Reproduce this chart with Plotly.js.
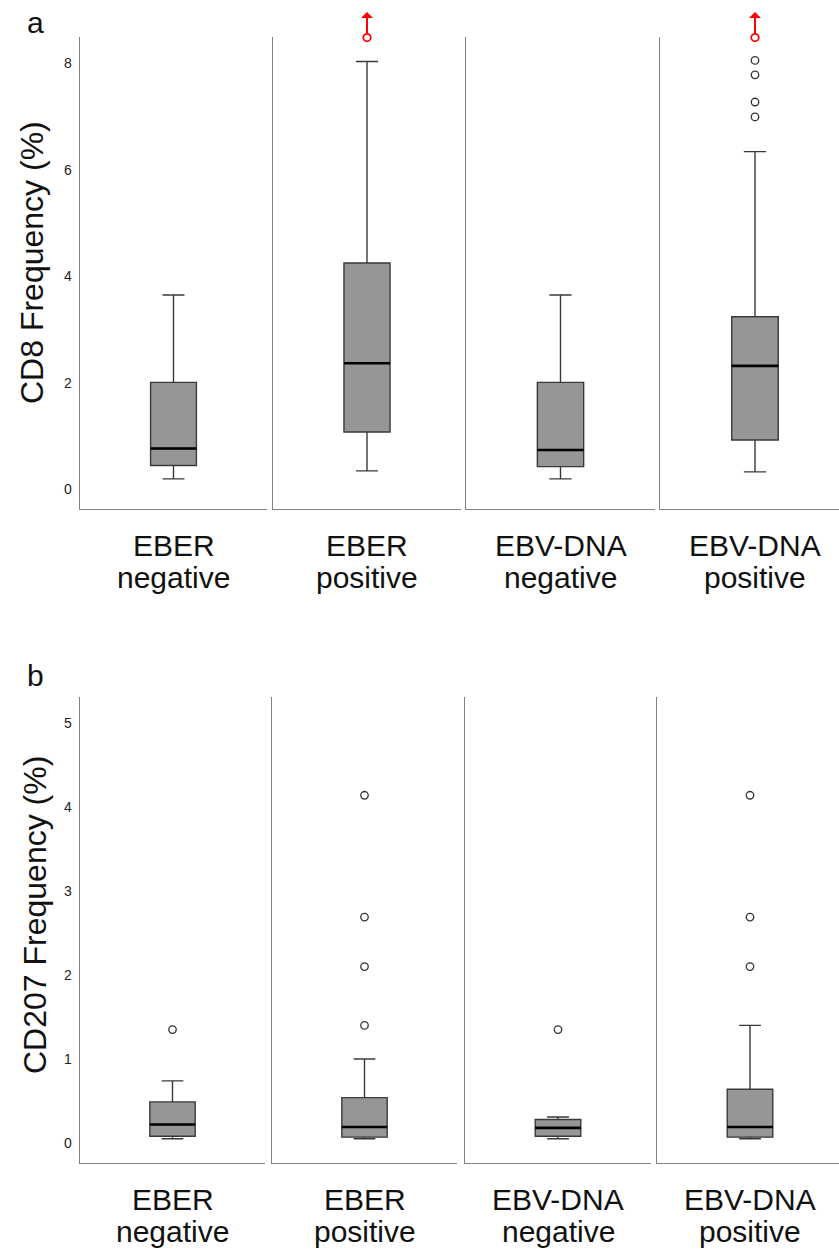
<!DOCTYPE html>
<html>
<head>
<meta charset="utf-8">
<script src="https://cdn.plot.ly/plotly-3.0.1.min.js"></script>
<style>html,body{margin:0;padding:0;background:#fff}#chart{width:839px;height:1249px}</style>
</head>
<body>
<div id="chart"></div>
<script>
// ---------- DATA ----------
const categories = ["EBER negative", "EBER positive", "EBV-DNA negative", "EBV-DNA positive"];

// Panel a: CD8 Frequency (%)
const cd8Lower  = [0.20, 0.35, 0.20, 0.33];
const cd8Q1     = [0.45, 1.08, 0.43, 0.93];
const cd8Median = [0.77, 2.37, 0.74, 2.32];
const cd8Q3     = [2.01, 4.25, 2.01, 3.24];
const cd8Upper  = [3.65, 8.03, 3.65, 6.34];
const cd8Outliers = [[], [], [], [8.05, 7.78, 7.27, 6.99]];
const cd8OffScale = [null, 8.48, null, 8.48];   // red: values beyond the axis (arrow up)

// Panel b: CD207 Frequency (%)
const cd207Lower  = [0.05, 0.05, 0.05, 0.05];
const cd207Q1     = [0.08, 0.07, 0.08, 0.07];
const cd207Median = [0.22, 0.19, 0.18, 0.19];
const cd207Q3     = [0.49, 0.54, 0.28, 0.64];
const cd207Upper  = [0.74, 1.00, 0.31, 1.40];
const cd207Outliers = [[1.35], [4.14, 2.69, 2.10, 1.40], [1.35], [4.14, 2.69, 2.10]];

const cd8Ticks = [0, 2, 4, 6, 8];
const cd207Ticks = [0, 1, 2, 3, 4, 5];

// ---------- LAYOUT GEOMETRY ----------
const W = 839, H = 1249;
const FONT = "Liberation Sans, Arial, sans-serif";
const BOXW = 0.245;
const px = v => v / W;
const py = v => 1 - v / H;

const rows = [
  { key: "a", title: "CD8 Frequency (%)", lower: cd8Lower, q1: cd8Q1, med: cd8Median, q3: cd8Q3, upper: cd8Upper,
    outliers: cd8Outliers, offscale: cd8OffScale, ticks: cd8Ticks,
    top: 37, bottom: 509, yrange: [-0.366, 8.49],
    panels: [[80, 267, 173.5], [273, 461, 367], [466, 655, 560.5], [660, 839, 755]],
    letter: [35, 23], titlePos: [32, 263] },
  { key: "b", title: "CD207 Frequency (%)", lower: cd207Lower, q1: cd207Q1, med: cd207Median, q3: cd207Q3, upper: cd207Upper,
    outliers: cd207Outliers, offscale: [null, null, null, null], ticks: cd207Ticks,
    top: 697, bottom: 1163, yrange: [-0.238, 5.31],
    panels: [[80, 265, 172.5], [272, 457, 364.5], [465, 651, 558], [657, 839, 750]],
    letter: [35, 675], titlePos: [35, 915] }
];

const traces = [];
const layout = {
  width: W, height: H,
  margin: { l: 0, r: 0, t: 0, b: 0 },
  paper_bgcolor: "#ffffff", plot_bgcolor: "rgba(0,0,0,0)",
  showlegend: false,
  font: { family: FONT, color: "#111" },
  annotations: []
};

let n = 0;
rows.forEach((row, r) => {
  row.panels.forEach((p, i) => {
    n += 1;
    const xa = "x" + (n === 1 ? "" : n), ya = "y" + (n === 1 ? "" : n);
    const xk = "xaxis" + (n === 1 ? "" : n), yk = "yaxis" + (n === 1 ? "" : n);
    const [left, right, center] = p;
    const ppu = (center - left) * 2; // px per data unit
    layout[xk] = {
      domain: [px(left), px(right)], anchor: ya,
      range: [-(center - left) / ppu, (right - center) / ppu],
      showline: true, linecolor: "#808080", linewidth: 1.3,
      showticklabels: false, ticks: "", showgrid: false, zeroline: false, fixedrange: true
    };
    layout[yk] = {
      domain: [py(row.bottom), py(row.top)], anchor: xa,
      range: row.yrange,
      showline: true, linecolor: "#808080", linewidth: 1.3,
      showgrid: false, zeroline: false, fixedrange: true,
      tickvals: row.ticks, ticktext: row.ticks.map(String),
      showticklabels: i === 0,
      ticks: i === 0 ? "outside" : "", ticklen: 4, tickcolor: "rgba(0,0,0,0)",
      tickfont: { family: FONT, size: 14, color: "#222" }
    };

    // box
    traces.push({
      type: "box", xaxis: xa, yaxis: ya,
      x: [0], q1: [row.q1[i]], median: [row.med[i]], q3: [row.q3[i]],
      lowerfence: [row.lower[i]], upperfence: [row.upper[i]],
      width: BOXW, whiskerwidth: 0.48,
      fillcolor: "#969696", line: { color: "#3a3a3a", width: 1.4 },
      boxpoints: false, hoverinfo: "skip"
    });
    // thicker median
    traces.push({
      type: "scatter", mode: "lines", xaxis: xa, yaxis: ya,
      x: [-BOXW / 2, BOXW / 2], y: [row.med[i], row.med[i]],
      line: { color: "#000", width: 2.6 }, hoverinfo: "skip"
    });
    // outliers
    if (row.outliers[i].length) {
      traces.push({
        type: "scatter", mode: "markers", xaxis: xa, yaxis: ya,
        x: row.outliers[i].map(() => 0), y: row.outliers[i],
        marker: { symbol: "circle-open", size: 7.5, color: "#333", line: { width: 1.3, color: "#333" } },
        cliponaxis: false, hoverinfo: "skip"
      });
    }
    // off-scale value (red open circle with an arrow pointing up)
    if (row.offscale[i] !== null) {
      const v = row.offscale[i];
      traces.push({
        type: "scatter", mode: "markers", xaxis: xa, yaxis: ya,
        x: [0], y: [v],
        marker: { symbol: "circle-open", size: 7.5, color: "#ff0000", line: { color: "#ff0000", width: 1.8 } },
        cliponaxis: false, hoverinfo: "skip"
      });
      layout.annotations.push({
        xref: xa, yref: ya, x: 0, y: v,
        axref: "pixel", ayref: "pixel", ax: 0, ay: -27,
        text: "", showarrow: true, arrowside: "start",
        arrowhead: 2, arrowsize: 1.35, arrowwidth: 2, arrowcolor: "#ff0000",
        standoff: 4.5, startstandoff: 0, font: { size: 1 }
      });
    }
    // category labels (two lines)
    const words = categories[i].split(" ");
    [row.bottom + 36, row.bottom + 68].forEach((yy, k) => {
      layout.annotations.push({
        xref: xa, yref: "paper", x: 0, y: py(yy),
        xanchor: "center", yanchor: "middle", showarrow: false,
        text: words[k], font: { family: FONT, size: 30, color: "#111" }
      });
    });
  });
  // panel letter
  layout.annotations.push({
    xref: "paper", yref: "paper", x: px(row.letter[0]), y: py(row.letter[1]),
    xanchor: "center", yanchor: "middle", showarrow: false,
    text: row.key, font: { family: FONT, size: 30, color: "#111" }
  });
  // y title
  layout.annotations.push({
    xref: "paper", yref: "paper", x: px(row.titlePos[0]), y: py(row.titlePos[1]),
    xanchor: "center", yanchor: "middle", showarrow: false, textangle: -90,
    text: row.title, font: { family: FONT, size: 32, color: "#111" }
  });
});

Plotly.newPlot("chart", traces, layout, { displayModeBar: false, staticPlot: true });
</script>
</body>
</html>
